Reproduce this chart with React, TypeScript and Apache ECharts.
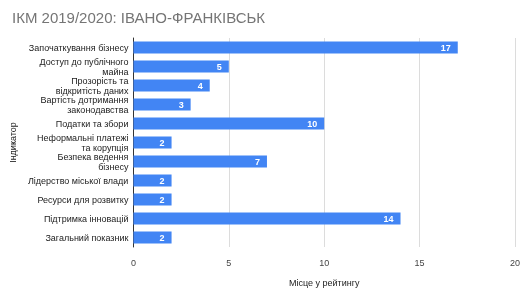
import React, { useEffect, useRef } from "react";
import * as echarts from "echarts";

const categories = [
  "Започаткування бізнесу",
  "Доступ до публічного\nмайна",
  "Прозорість та\nвідкритість даних",
  "Вартість дотримання\nзаконодавства",
  "Податки та збори",
  "Неформальні платежі\nта корупція",
  "Безпека ведення\nбізнесу",
  "Лідерство міської влади",
  "Ресурси для розвитку",
  "Підтримка інновацій",
  "Загальний показник",
];
const values = [17, 5, 4, 3, 10, 2, 7, 2, 2, 14, 2];
const title = "ІКМ 2019/2020: ІВАНО-ФРАНКІВСЬК";
const xName = "Місце у рейтингу";
const yName = "Індикатор";

export default function App() {
  const ref = useRef<HTMLDivElement>(null);
  useEffect(() => {
    if (!ref.current) return;
    const chart = echarts.init(ref.current, null, { renderer: "svg" });
    const font = "Liberation Sans, Arial, sans-serif";
    chart.setOption({
      animation: false,
      title: {
        text: title,
        left: 7,
        top: 5,
        textStyle: { fontFamily: font, fontSize: 15, fontWeight: "normal", color: "#757575" },
      },
      grid: { left: 129, right: 12, top: 38, bottom: 36 },
      xAxis: {
        type: "value",
        min: 0,
        max: 20,
        interval: 5,
        name: xName,
        nameLocation: "middle",
        nameGap: 31,
        nameTextStyle: { fontFamily: font, fontSize: 9, color: "#222" },
        axisLabel: { fontFamily: font, fontSize: 9, color: "#444", margin: 11 },
        axisLine: { show: false },
        axisTick: { show: false },
        splitLine: { lineStyle: { color: "#dcdcdc" } },
      },
      yAxis: {
        type: "category",
        data: categories,
        inverse: true,
        name: yName,
        nameLocation: "middle",
        nameGap: 115,
        nameRotate: 90,
        nameTextStyle: { fontFamily: font, fontSize: 9, color: "#222" },
        axisLabel: { fontFamily: font, fontSize: 9, color: "#222", lineHeight: 10, margin: 5 },
        axisLine: { show: true, lineStyle: { color: "#333" } },
        axisTick: { show: false },
      },
      series: [
        {
          type: "bar",
          data: values,
          barWidth: 12,
          itemStyle: { color: "#4285f4" },
          label: {
            show: true,
            position: "insideRight",
            color: "#fff",
            fontFamily: font,
            fontSize: 9,
            fontWeight: "bold",
            offset: [-2, 0],
          },
        },
      ],
    });
    return () => chart.dispose();
  }, []);
  return (
    <div
      ref={ref}
      style={{ position: "fixed", left: 0, top: 0, width: 527, height: 292 }}
    />
  );
}
